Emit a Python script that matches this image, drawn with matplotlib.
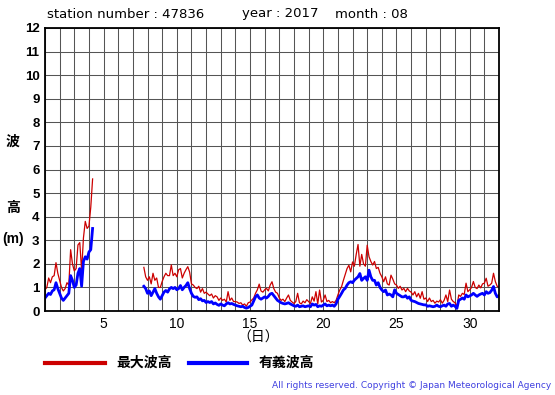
import numpy as np
import matplotlib
matplotlib.use('Agg')
import matplotlib.pyplot as plt

plt.rcParams['font.family'] = ['Liberation Sans', 'Noto Sans CJK JP', 'DejaVu Sans']

# 3-hourly wave heights (m), first block before the data gap
start_a = 1.0
max_h_a = [0.9, 1.0, 1.4, 1.2, 1.45, 1.5, 2.05, 1.6,
           1.3, 1.0, 0.85, 0.95, 1.2, 1.1, 2.6, 2.0,
           1.7, 1.8, 2.8, 2.9, 1.7, 3.1, 3.8, 3.5,
           3.6, 4.4, 5.6]
sig_h_a = [0.55, 0.65, 0.75, 0.7, 0.85, 0.9, 1.2, 0.95,
           0.75, 0.55, 0.45, 0.55, 0.65, 0.75, 1.5, 1.3,
           1.0, 1.1, 1.6, 1.8, 1.05, 2.1, 2.3, 2.2,
           2.5, 2.6, 3.5]

# second block, day 7.75 to day 32
start_b = 7.75
max_h_b = (
    [1.85, 1.45]
    + [1.3, 1.45, 1.15, 1.6, 1.3, 1.4, 1.0, 1.0]         # 8
    + [1.25, 1.45, 1.6, 1.5, 1.5, 1.95, 1.5, 1.6]        # 9
    + [1.45, 1.75, 1.8, 1.4, 1.6, 1.75, 1.88, 1.65]      # 10
    + [1.15, 1.1, 1.0, 0.95, 1.05, 0.8, 0.95, 0.75]      # 11
    + [0.8, 0.72, 0.65, 0.72, 0.55, 0.65, 0.6, 0.45]     # 12
    + [0.55, 0.45, 0.5, 0.38, 0.82, 0.45, 0.55, 0.4]     # 13
    + [0.4, 0.38, 0.32, 0.35, 0.25, 0.3, 0.2, 0.35]      # 14
    + [0.38, 0.47, 0.55, 0.75, 0.9, 1.14, 0.85, 0.8]     # 15
    + [0.9, 0.96, 0.85, 1.1, 1.24, 0.95, 0.8, 0.75]      # 16
    + [0.55, 0.45, 0.5, 0.4, 0.55, 0.68, 0.45, 0.38]     # 17
    + [0.32, 0.4, 0.75, 0.35, 0.3, 0.42, 0.35, 0.48]     # 18
    + [0.4, 0.32, 0.6, 0.42, 0.82, 0.3, 0.89, 0.38]      # 19
    + [0.45, 0.68, 0.4, 0.45, 0.35, 0.4, 0.35, 0.45]     # 20
    + [0.68, 0.89, 1.03, 1.3, 1.55, 1.8, 1.94, 1.66]     # 21
    + [2.08, 1.9, 2.4, 2.82, 1.9, 2.4, 2.0, 1.9]         # 22
    + [2.79, 2.3, 2.1, 1.95, 2.1, 1.8, 1.85, 1.6]        # 23
    + [1.45, 1.24, 1.45, 1.15, 1.1, 1.52, 1.35, 1.15]    # 24
    + [1.1, 0.96, 1.05, 0.89, 0.96, 0.82, 0.96, 0.85]    # 25
    + [0.8, 0.68, 0.82, 0.6, 0.75, 0.54, 0.82, 0.5]      # 26
    + [0.55, 0.4, 0.55, 0.4, 0.45, 0.33, 0.42, 0.38]     # 27
    + [0.48, 0.33, 0.45, 0.68, 0.4, 0.89, 0.5, 0.4]      # 28
    + [0.35, 0.18, 0.68, 0.62, 0.75, 0.7, 1.18, 0.82]    # 29
    + [0.9, 1.0, 1.25, 1.0, 0.95, 1.1, 0.98, 1.15]       # 30
    + [1.18, 1.39, 1.05, 1.1, 1.18, 1.6, 1.25, 1.05]     # 31
    + [1.0]
)
sig_h_b = (
    [1.05, 0.95]
    + [0.75, 0.85, 0.65, 0.8, 0.95, 0.75, 0.6, 0.5]      # 8
    + [0.65, 0.8, 0.87, 0.8, 0.94, 1.0, 0.95, 1.0]       # 9
    + [0.9, 0.95, 1.08, 0.9, 1.0, 1.08, 1.2, 0.95]       # 10
    + [0.75, 0.62, 0.58, 0.6, 0.48, 0.52, 0.43, 0.45]    # 11
    + [0.36, 0.4, 0.36, 0.4, 0.3, 0.34, 0.28, 0.24]      # 12
    + [0.3, 0.25, 0.22, 0.3, 0.35, 0.3, 0.32, 0.28]      # 13
    + [0.25, 0.22, 0.2, 0.18, 0.2, 0.15, 0.12, 0.15]     # 14
    + [0.2, 0.25, 0.42, 0.6, 0.68, 0.55, 0.5, 0.55]      # 15
    + [0.6, 0.55, 0.62, 0.72, 0.75, 0.65, 0.55, 0.45]    # 16
    + [0.4, 0.35, 0.32, 0.3, 0.32, 0.35, 0.3, 0.26]      # 17
    + [0.22, 0.2, 0.25, 0.18, 0.2, 0.22, 0.18, 0.2]      # 18
    + [0.22, 0.18, 0.3, 0.25, 0.28, 0.18, 0.22, 0.2]     # 19
    + [0.25, 0.3, 0.22, 0.25, 0.22, 0.25, 0.2, 0.3]      # 20
    + [0.5, 0.62, 0.75, 0.89, 0.96, 1.1, 1.2, 1.24]      # 21
    + [1.2, 1.31, 1.38, 1.45, 1.59, 1.3, 1.38, 1.45]     # 22
    + [1.3, 1.73, 1.45, 1.3, 1.3, 1.1, 1.2, 1.0]         # 23
    + [0.89, 0.82, 0.89, 0.68, 0.72, 0.68, 0.6, 0.9]     # 24
    + [0.75, 0.7, 0.65, 0.6, 0.6, 0.65, 0.54, 0.6]       # 25
    + [0.45, 0.42, 0.4, 0.36, 0.32, 0.3, 0.28, 0.26]     # 26
    + [0.26, 0.2, 0.22, 0.2, 0.18, 0.2, 0.25, 0.2]       # 27
    + [0.18, 0.22, 0.25, 0.2, 0.3, 0.32, 0.2, 0.25]      # 28
    + [0.2, 0.11, 0.45, 0.5, 0.55, 0.5, 0.68, 0.6]       # 29
    + [0.64, 0.68, 0.75, 0.68, 0.62, 0.68, 0.72, 0.75]   # 30
    + [0.68, 0.82, 0.75, 0.78, 0.88, 1.04, 0.75, 0.6]    # 31
    + [0.65]
)

x_labels = [5, 10, 15, 20, 25, 30]
y_labels = list(range(0, 13))

W, H = 555, 395
RED = '#cc0000'
BLUE = '#0000ff'


def fx(px):
    return px / W


def fy(py):
    return 1 - py / H


t_a = start_a + np.arange(len(max_h_a)) / 8
t_b = start_b + np.arange(len(max_h_b)) / 8

fig = plt.figure(figsize=(W / 100, H / 100), dpi=100)
ax = fig.add_axes([fx(45), fy(311), (499 - 45) / W, (311 - 28) / H])

ax.plot(t_a, max_h_a, color=RED, lw=0.9)
ax.plot(t_b, max_h_b, color=RED, lw=0.9)
ax.plot(t_a, sig_h_a, color=BLUE, lw=2.0)
ax.plot(t_b, sig_h_b, color=BLUE, lw=2.0)

ax.set_xlim(1, 32)
ax.set_ylim(0, 12)
ax.set_xticks(x_labels)
ax.set_xticklabels([str(v) for v in x_labels], fontsize=10)
ax.set_xticks(range(1, 33), minor=True)
ax.set_yticks(y_labels)
ax.set_yticklabels([str(v) for v in y_labels], fontsize=9.5, fontweight='bold')
ax.tick_params(which='both', length=0)
ax.tick_params(axis='x', pad=4)
ax.tick_params(axis='y', pad=4)
ax.grid(which='both', color='#555555', lw=0.75)
ax.set_axisbelow(True)
for s in ax.spines.values():
    s.set_linewidth(1.3)
    s.set_color('black')

fig.text(fx(47), fy(14), 'station number : 47836', fontsize=9.5,
         family='DejaVu Sans', va='center')
fig.text(fx(242), fy(14), 'year : 2017', fontsize=9.5,
         family='DejaVu Sans', va='center')
fig.text(fx(335), fy(14), 'month : 08', fontsize=9.5,
         family='DejaVu Sans', va='center')

fig.text(fx(13), fy(142), '波', fontsize=10, fontweight='bold', ha='center', va='center')
fig.text(fx(13), fy(208), '高', fontsize=10, fontweight='bold', ha='center', va='center')
fig.text(fx(13), fy(239), '(m)', fontsize=10, fontweight='bold', ha='center', va='center')
fig.text(fx(258), fy(338), '（日）', fontsize=10, ha='center', va='center')

# legend drawn below the plot
fig.add_artist(plt.Line2D([fx(45), fx(105)], [fy(363), fy(363)], color=RED, lw=3))
fig.text(fx(116), fy(363), '最大波高', fontsize=10, fontweight='bold', va='center')
fig.add_artist(plt.Line2D([fx(189), fx(247)], [fy(363), fy(363)], color=BLUE, lw=3))
fig.text(fx(259), fy(363), '有義波高', fontsize=10, fontweight='bold', va='center')

fig.text(fx(551), fy(385), 'All rights reserved. Copyright © Japan Meteorological Agency',
         fontsize=6.5, family='DejaVu Sans', color='#4040e0', ha='right', va='center')

fig.savefig('out.png', dpi=100)
